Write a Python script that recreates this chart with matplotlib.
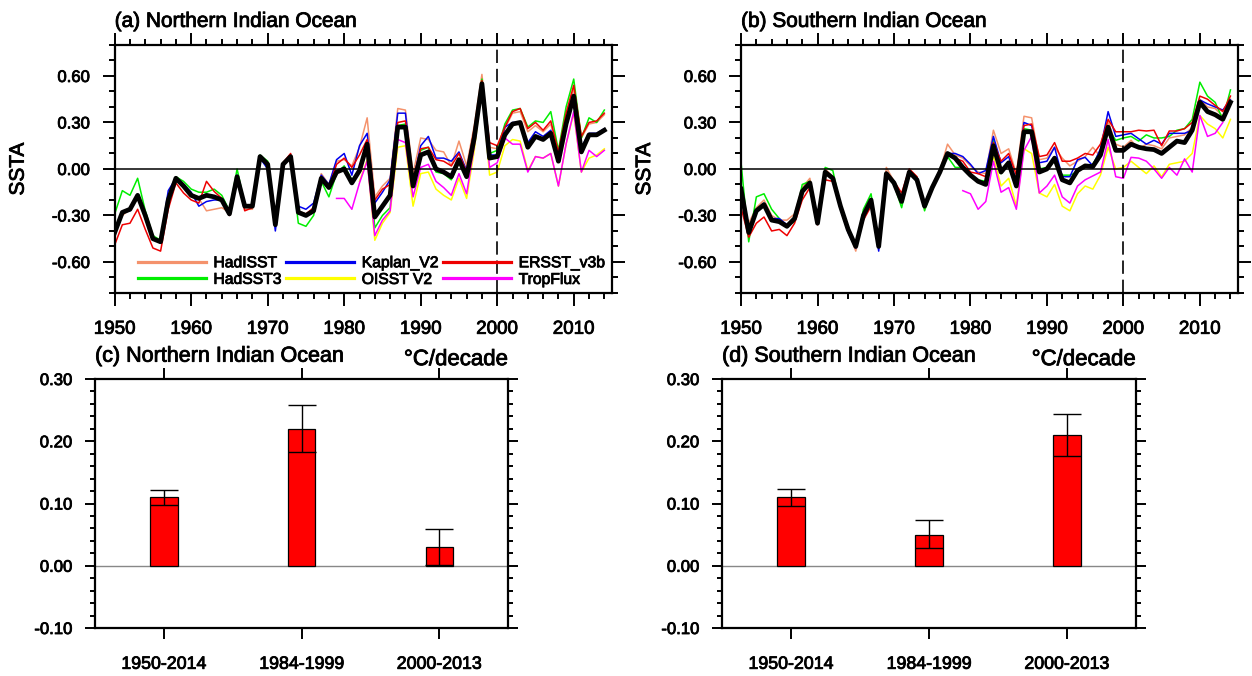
import matplotlib
matplotlib.use("Agg")
import matplotlib.pyplot as plt
import matplotlib.patheffects as pe
from matplotlib.text import Text
import numpy as np
from matplotlib.ticker import MultipleLocator, FormatStrFormatter, FixedLocator

plt.rcParams['font.family'] = ['Liberation Sans', 'DejaVu Sans']

# years
years = np.arange(1950, 2015)
years_oisst = np.arange(1982, 2015)
years_trop_n = np.arange(1979, 2015)
years_trop_s = np.arange(1979, 2014)

# ---------------- Northern Indian Ocean SSTA ----------------
n_hadisst = [-0.39, -0.30, -0.26, -0.18, -0.30, -0.45, -0.47, -0.20, -0.05, -0.10,
             -0.16, -0.19, -0.27, -0.26, -0.25, -0.28, -0.05, -0.26, -0.26, 0.08,
             0.03, -0.35, 0.03, 0.09, -0.27, -0.29, -0.26, -0.03, -0.10, 0.05,
             0.06, 0.02, 0.14, 0.33, -0.18, -0.11, -0.06, 0.39, 0.38, -0.03,
             0.20, 0.19, 0.12, 0.11, 0.02, 0.18, 0.02, 0.28, 0.61, 0.14,
             0.13, 0.26, 0.36, 0.37, 0.24, 0.28, 0.24, 0.29, 0.09, 0.33,
             0.52, 0.20, 0.29, 0.30, 0.35]
n_hadsst3 = [-0.29, -0.14, -0.17, -0.06, -0.27, -0.43, -0.46, -0.17, -0.05, -0.08,
             -0.13, -0.15, -0.15, -0.13, -0.17, -0.27, 0.00, -0.23, -0.24, 0.09,
             0.05, -0.35, 0.04, 0.08, -0.35, -0.37, -0.30, -0.08, -0.18, -0.03,
             0.02, -0.07, -0.01, 0.17, -0.38, -0.30, -0.25, 0.28, 0.29, -0.10,
             0.12, 0.14, -0.02, -0.03, -0.07, 0.04, -0.03, 0.25, 0.58, 0.10,
             0.12, 0.29, 0.38, 0.39, 0.27, 0.31, 0.30, 0.37, 0.12, 0.40,
             0.58, 0.20, 0.33, 0.30, 0.38]
n_kaplan = [-0.40, -0.28, -0.27, -0.17, -0.31, -0.45, -0.46, -0.14, -0.06, -0.10,
            -0.15, -0.24, -0.21, -0.20, -0.20, -0.29, -0.04, -0.23, -0.24, 0.07,
            0.00, -0.40, 0.02, 0.08, -0.24, -0.26, -0.22, -0.04, -0.10, 0.06,
            0.10, -0.04, 0.15, 0.23, -0.22, -0.15, -0.07, 0.36, 0.36, -0.08,
            0.15, 0.21, 0.07, 0.07, 0.05, 0.11, -0.01, 0.24, 0.55, 0.09,
            0.09, 0.27, 0.30, 0.30, 0.17, 0.24, 0.21, 0.25, 0.06, 0.31,
            0.48, 0.14, 0.23, 0.23, 0.26]
n_ersst = [-0.49, -0.36, -0.35, -0.26, -0.39, -0.51, -0.53, -0.26, -0.09, -0.155,
           -0.20, -0.22, -0.08, -0.145, -0.19, -0.30, -0.06, -0.27, -0.25, 0.08,
           0.04, -0.36, 0.04, 0.10, -0.28, -0.29, -0.25, -0.05, -0.12, 0.03,
           0.07, 0.01, 0.09, 0.19, -0.20, -0.13, -0.10, 0.30, 0.31, -0.07,
           0.13, 0.14, 0.06, 0.05, 0.02, 0.10, -0.02, 0.26, 0.57, 0.17,
           0.15, 0.27, 0.37, 0.39, 0.26, 0.30, 0.25, 0.31, 0.11, 0.36,
           0.54, 0.21, 0.30, 0.31, 0.36]
n_oisst = [-0.08, 0.06, -0.46, -0.35, -0.28, 0.14, 0.15, -0.24, -0.03, -0.02,
           -0.13, -0.17, -0.20, -0.06, -0.19, 0.12, 0.53, -0.04, -0.02, 0.15,
           0.19, 0.18, -0.01, 0.08, 0.07, 0.10, -0.11, 0.16, 0.36, -0.02,
           0.07, 0.09, 0.13]
n_tropflux = [-0.19, -0.19, -0.26, -0.09, 0.05, -0.43, -0.33, -0.27, 0.19, 0.17,
              -0.18, 0.01, 0.03, -0.08, -0.12, -0.17, -0.03, -0.16, 0.15, 0.53,
              0.01, 0.04, 0.20, 0.16, 0.16, -0.02, 0.08, 0.07, 0.10, -0.11,
              0.16, 0.37, -0.02, 0.12, 0.08, 0.12]
n_mean = [-0.41, -0.28, -0.26, -0.17, -0.30, -0.45, -0.47, -0.20, -0.06, -0.11,
          -0.17, -0.19, -0.17, -0.18, -0.20, -0.29, -0.05, -0.24, -0.24, 0.08,
          0.03, -0.36, 0.03, 0.08, -0.28, -0.30, -0.27, -0.06, -0.12, -0.02,
          0.00, -0.09, -0.01, 0.16, -0.31, -0.24, -0.17, 0.27, 0.27, -0.11,
          0.09, 0.11, 0.00, -0.02, -0.05, 0.06, -0.05, 0.20, 0.55, 0.07,
          0.08, 0.22, 0.29, 0.30, 0.14, 0.21, 0.19, 0.23, 0.05, 0.29,
          0.47, 0.11, 0.22, 0.22, 0.25]

# ---------------- Southern Indian Ocean SSTA ----------------
s_hadisst = [-0.20, -0.35, -0.25, -0.20, -0.30, -0.33, -0.33, -0.29, -0.12, -0.06,
             -0.35, 0.00, -0.05, -0.24, -0.39, -0.53, -0.31, -0.21, -0.49, 0.01,
             -0.08, -0.18, 0.00, -0.05, -0.25, -0.12, -0.01, 0.16, 0.09, 0.07,
             0.02, -0.02, -0.03, 0.25, 0.10, 0.13, -0.03, 0.34, 0.33, 0.06,
             0.07, 0.14, 0.07, 0.02, 0.05, 0.08, 0.14, 0.08, 0.31, 0.16,
             0.14, 0.185, 0.13, 0.16, 0.15, 0.13, 0.20, 0.21, 0.22, 0.27,
             0.45, 0.40, 0.39, 0.34, 0.45]
s_hadsst3 = [0.04, -0.47, -0.18, -0.16, -0.26, -0.32, -0.37, -0.34, -0.10, -0.08,
             -0.35, 0.01, -0.01, -0.24, -0.37, -0.50, -0.26, -0.16, -0.48, -0.03,
             -0.10, -0.25, -0.02, -0.06, -0.27, -0.12, -0.01, 0.08, 0.01, 0.01,
             -0.05, -0.07, -0.08, 0.19, -0.03, 0.03, -0.09, 0.26, 0.25, 0.00,
             0.01, 0.05, -0.04, -0.04, -0.02, 0.02, 0.03, 0.12, 0.26, 0.185,
             0.20, 0.21, 0.18, 0.22, 0.20, 0.20, 0.21, 0.25, 0.26, 0.32,
             0.56, 0.47, 0.43, 0.32, 0.51]
s_kaplan = [-0.13, -0.42, -0.27, -0.22, -0.32, -0.32, -0.36, -0.32, -0.14, -0.09,
            -0.34, -0.02, -0.06, -0.26, -0.41, -0.51, -0.30, -0.20, -0.53, -0.03,
            -0.09, -0.21, -0.02, -0.06, -0.24, -0.12, -0.02, 0.10, 0.10, 0.08,
            0.03, -0.03, -0.01, 0.21, 0.04, 0.08, -0.08, 0.30, 0.28, 0.04,
            0.05, 0.14, -0.05, -0.05, 0.06, 0.075, 0.02, 0.13, 0.37, 0.21,
            0.22, 0.23, 0.195, 0.16, 0.185, 0.16, 0.23, 0.23, 0.23, 0.25,
            0.445, 0.42, 0.40, 0.38, 0.445]
s_ersst = [-0.25, -0.44, -0.35, -0.31, -0.40, -0.39, -0.43, -0.35, -0.20, -0.12,
           -0.36, -0.07, -0.08, -0.25, -0.39, -0.50, -0.33, -0.24, -0.50, -0.02,
           -0.08, -0.155, 0.00, -0.05, -0.25, -0.12, -0.02, 0.09, 0.07, 0.05,
           -0.02, -0.03, -0.05, 0.17, 0.05, 0.10, -0.04, 0.28, 0.29, 0.08,
           0.09, 0.17, 0.05, 0.05, 0.07, 0.10, 0.09, 0.16, 0.32, 0.24,
           0.24, 0.24, 0.25, 0.245, 0.25, 0.15, 0.245, 0.245, 0.26, 0.30,
           0.47, 0.45, 0.41, 0.37, 0.47]
s_oisst = [-0.05, 0.08, -0.11, -0.06, -0.24, 0.13, 0.10, -0.155, -0.18, -0.10,
           -0.24, -0.27, -0.16, -0.11, -0.13, -0.04, 0.14, 0.00, 0.01, 0.05,
           0.01, -0.03, 0.02, -0.05, 0.03, 0.04, 0.05, 0.10, 0.345, 0.29,
           0.26, 0.20, 0.32]
s_tropflux = [-0.14, -0.16, -0.26, -0.21, 0.05, -0.15, -0.12, -0.26, 0.12, 0.21,
              -0.155, -0.11, -0.04, -0.18, -0.22, -0.11, -0.07, -0.045, -0.02, 0.19,
              -0.05, -0.06, 0.075, 0.07, 0.05, 0.00, -0.06, 0.01, -0.04, 0.065,
              -0.02, 0.345, 0.21, 0.23, 0.30]
s_mean = [-0.13, -0.41, -0.27, -0.23, -0.33, -0.34, -0.37, -0.32, -0.145, -0.09,
          -0.35, -0.02, -0.06, -0.24, -0.39, -0.50, -0.30, -0.20, -0.50, -0.03,
          -0.09, -0.21, -0.02, -0.07, -0.24, -0.12, -0.02, 0.10, 0.07, 0.01,
          -0.04, -0.08, -0.10, 0.15, -0.02, 0.04, -0.11, 0.24, 0.24, -0.02,
          0.00, 0.07, -0.07, -0.09, -0.01, 0.02, 0.015, 0.09, 0.27, 0.12,
          0.12, 0.16, 0.14, 0.13, 0.125, 0.10, 0.14, 0.18, 0.17, 0.25,
          0.43, 0.37, 0.35, 0.32, 0.43]

# ---------------- trends (degC/decade) ----------------
periods = ["1950-2014", "1984-1999", "2000-2013"]
n_trend = [0.11, 0.22, 0.03]
n_low = [0.098, 0.182, 0.001]
n_high = [0.122, 0.258, 0.059]
s_trend = [0.11, 0.05, 0.21]
s_low = [0.096, 0.028, 0.177]
s_high = [0.124, 0.073, 0.244]

names = ["HadISST", "HadSST3", "Kaplan_V2", "OISST V2", "ERSST_v3b", "TropFlux"]
colors = ["#f4926c", "#00ee00", "#0000ee", "#ffff00", "#ee0000", "#ff00ff"]

fig = plt.figure(figsize=(12.52, 6.76), dpi=100)
ax_a = fig.add_axes([0.0916, 0.5666, 0.3972, 0.3669])
ax_b = fig.add_axes([0.5919, 0.5666, 0.3970, 0.3669])
ax_c = fig.add_axes([0.0759, 0.0710, 0.3301, 0.3683])
ax_d = fig.add_axes([0.5767, 0.0710, 0.3307, 0.3683])


def style_axes(ax):
    for s in ax.spines.values():
        s.set_linewidth(1.6)
    ax.tick_params(which='both', direction='out', top=True, right=True,
                   labeltop=False, labelright=False, width=1.4)


def line_panel(ax, series, trop_years, mean, title, legend=False):
    yrs = [years, years, years, years_oisst, years, trop_years]
    for v, yr, c, nm in zip(series, yrs, colors, names):
        ax.plot(yr, v, color=c, lw=1.1, label=nm)
    ax.plot(years, mean, color='k', lw=3.4, zorder=5)
    ax.axhline(0, color='k', lw=1.1)
    ax.axvline(2000, color='k', lw=1.2, dashes=(8, 3.5))
    ax.set_xlim(1950, 2015)
    ax.set_ylim(-0.8, 0.8)
    ax.xaxis.set_major_locator(MultipleLocator(10))
    ax.xaxis.set_minor_locator(MultipleLocator(2))
    ax.yaxis.set_major_locator(FixedLocator([-0.6, -0.3, 0, 0.3, 0.6]))
    ax.yaxis.set_minor_locator(MultipleLocator(0.1))
    ax.yaxis.set_major_formatter(FormatStrFormatter('%.2f'))
    style_axes(ax)
    ax.tick_params(axis='x', which='major', length=9, pad=11, labelsize=13.5)
    ax.tick_params(axis='x', which='minor', length=4.5)
    ax.tick_params(axis='y', which='major', length=9, pad=9, labelsize=12)
    ax.tick_params(axis='y', which='minor', length=4.5)
    ax.set_ylabel('SSTA', fontsize=15)
    ax.yaxis.set_label_coords(-0.175, 0.5)
    ax.annotate(title, xy=(0, 1), xycoords='axes fraction', xytext=(0, 13),
                textcoords='offset points', ha='left', va='baseline', fontsize=15)
    if legend:
        leg = ax.legend(loc='lower left', bbox_to_anchor=(0.025, -0.02), ncol=3,
                        frameon=False, fontsize=11.3, handlelength=4.3,
                        handletextpad=0.5, columnspacing=0.3, labelspacing=0.1,
                        borderpad=0.2)
        for ln in leg.get_lines():
            ln.set_linewidth(2.3)


def bar_panel(ax, trend, low, high, title):
    x = np.arange(len(periods)) + 0.5
    trend = np.array(trend)
    err = [trend - np.array(low), np.array(high) - trend]
    ax.axhline(0, color='#888888', lw=1.0, zorder=1)
    ax.bar(x, trend, width=0.2, color='#ff0000', edgecolor='k', linewidth=0.9, zorder=2)
    ax.errorbar(x, trend, yerr=err, fmt='none', ecolor='k', elinewidth=1.0,
                capsize=10, capthick=1.0, zorder=3)
    ax.set_xlim(0, 3)
    ax.set_ylim(-0.1, 0.3)
    ax.set_xticks(x)
    ax.set_xticklabels(periods)
    ax.yaxis.set_major_locator(MultipleLocator(0.1))
    ax.yaxis.set_minor_locator(MultipleLocator(0.02))
    ax.yaxis.set_major_formatter(FormatStrFormatter('%.2f'))
    style_axes(ax)
    ax.tick_params(axis='x', which='major', length=8, pad=12, labelsize=12.8)
    ax.tick_params(axis='y', which='major', length=7.5, pad=9, labelsize=12)
    ax.tick_params(axis='y', which='minor', length=3.8)
    ax.annotate(title, xy=(0, 1), xycoords='axes fraction', xytext=(0, 12.5),
                textcoords='offset points', ha='left', va='baseline', fontsize=15.5)
    ax.annotate('°C/decade', xy=(1, 1), xycoords='axes fraction', xytext=(0, 10),
                textcoords='offset points', ha='right', va='baseline', fontsize=16)


line_panel(ax_a, [n_hadisst, n_hadsst3, n_kaplan, n_oisst, n_ersst, n_tropflux],
           years_trop_n, n_mean, '(a) Northern Indian Ocean', legend=True)
line_panel(ax_b, [s_hadisst, s_hadsst3, s_kaplan, s_oisst, s_ersst, s_tropflux],
           years_trop_s, s_mean, '(b) Southern Indian Ocean')
bar_panel(ax_c, n_trend, n_low, n_high, '(c) Northern Indian Ocean')
bar_panel(ax_d, s_trend, s_low, s_high, '(d) Southern Indian Ocean')

# heavier text, closer to the original rendering
fig.canvas.draw()
for t in fig.findobj(Text):
    if t.get_text():
        t.set_path_effects([pe.withStroke(linewidth=0.6, foreground='black')])

fig.savefig('out.png', dpi=100)
